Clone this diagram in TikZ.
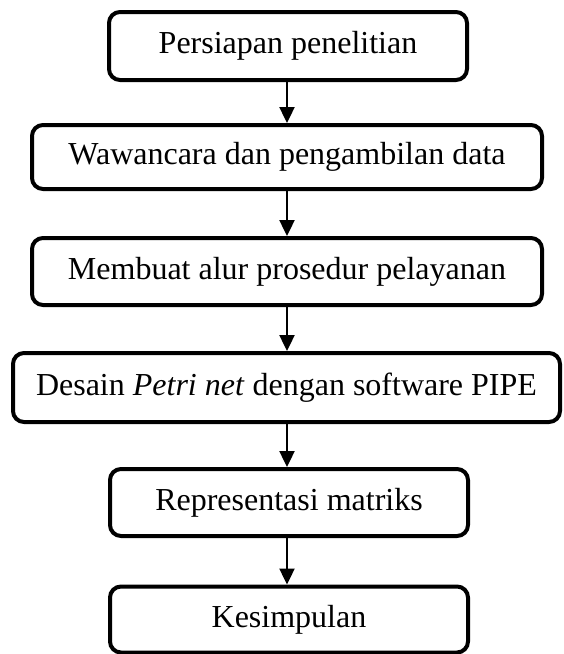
\documentclass[tikz,border=0pt]{standalone}
\usepackage{fontspec}
\setmainfont{Liberation Serif}
\usetikzlibrary{arrows.meta}
\tikzset{
  stepbox/.style={draw=black, line width=4pt, rounded corners=11pt, fill=white,
    inner sep=0pt, align=center, font=\fontsize{32}{38}\selectfont},
  flowarrow/.style={line width=2.4pt, -{Triangle[width=15pt,length=16pt]}}
}
\begin{document}
\begin{tikzpicture}[x=1pt,y=-1pt]
\useasboundingbox (0,0) rectangle (563,654);
\node[stepbox, minimum width=358pt, minimum height=68pt] (s1) at (288,46) {Persiapan penelitian};
\node[stepbox, minimum width=510pt, minimum height=64pt] (s2) at (287,157) {Wawancara dan pengambilan data};
\node[stepbox, minimum width=510pt, minimum height=67pt] (s3) at (287,271.5) {Membuat alur prosedur pelayanan};
\node[stepbox, minimum width=547pt, minimum height=69pt] (s4) at (286.5,387.5) {Desain \textit{Petri net} dengan software PIPE};
\node[stepbox, minimum width=358pt, minimum height=67pt] (s5) at (289,502.5) {Representasi matriks};
\node[stepbox, minimum width=358pt, minimum height=66pt] (s6) at (289,619.5) {Kesimpulan};
\draw[flowarrow] (s1.south -| 287,0) -- (s2.north -| 287,0);
\draw[flowarrow] (s2.south -| 287,0) -- (s3.north -| 287,0);
\draw[flowarrow] (s3.south -| 287,0) -- (s4.north -| 287,0);
\draw[flowarrow] (s4.south -| 287,0) -- (s5.north -| 287,0);
\draw[flowarrow] (s5.south -| 287,0) -- (s6.north -| 287,0);
\end{tikzpicture}
\end{document}
